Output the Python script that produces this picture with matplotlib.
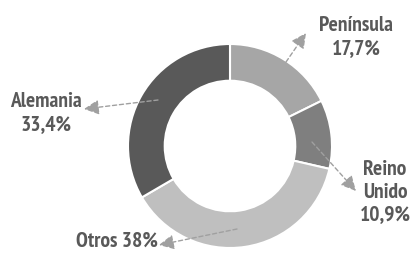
import matplotlib
matplotlib.use("Agg")
import matplotlib.pyplot as plt
from matplotlib import font_manager

# datos
labels = ['Península', 'Reino Unido', 'Otros', 'Alemania']
values = [17.7, 10.9, 38.0, 33.4]
label_texts = ['Península\n17,7%', 'Reino\nUnido\n10,9%', 'Otros 38%', 'Alemania\n33,4%']
colors = ['#a6a6a6', '#7f7f7f', '#bfbfbf', '#595959']

# fuente estrecha parecida a PT Sans Narrow
names = {f.name for f in font_manager.fontManager.ttflist}
font = 'DejaVu Sans'
for cand in ['PT Sans Narrow', 'Fira Sans Condensed', 'Cabin Condensed', 'Asap Condensed']:
    if cand in names:
        font = cand
        break
plt.rcParams['font.family'] = [font, 'DejaVu Sans']

W, H = 411, 254
fig = plt.figure(figsize=(W / 100, H / 100), dpi=100)
ax = fig.add_axes([0, 0, 1, 1])

# donut (centro y radio en pixeles)
cx, cy, r = 230, H - 146, 102
ax.pie(values, colors=colors, startangle=90, counterclock=False,
       center=(cx, cy), radius=r,
       wedgeprops=dict(width=r * 0.36, edgecolor='white', linewidth=1.5))
ax.set_xlim(0, W)
ax.set_ylim(0, H)
ax.set_aspect('equal')
ax.axis('off')

# flechas: (inicio, punta) en pixeles desde arriba
arrows = [((286, 62), (306, 33)),
          ((312, 142), (356, 191)),
          ((237, 229), (159, 245)),
          ((158, 100), (84, 109))]
for (x0, y0), (x1, y1) in arrows:
    ax.annotate('', xy=(x1, H - y1), xytext=(x0, H - y0),
                arrowprops=dict(arrowstyle='-|>,head_length=0.9,head_width=0.45',
                                color='#a0a0a0', lw=1, linestyle=(0, (3, 2)),
                                shrinkA=0, shrinkB=0))

# etiquetas
pos = [(356, 37), (385, 192), (117, 241), (46, 113)]
for txt, (x, y) in zip(label_texts, pos):
    ax.text(x, H - y, txt, ha='center', va='center', fontsize=15.5,
            fontweight='semibold', color='#595959', linespacing=1.22)

fig.savefig('out.png', dpi=100)
